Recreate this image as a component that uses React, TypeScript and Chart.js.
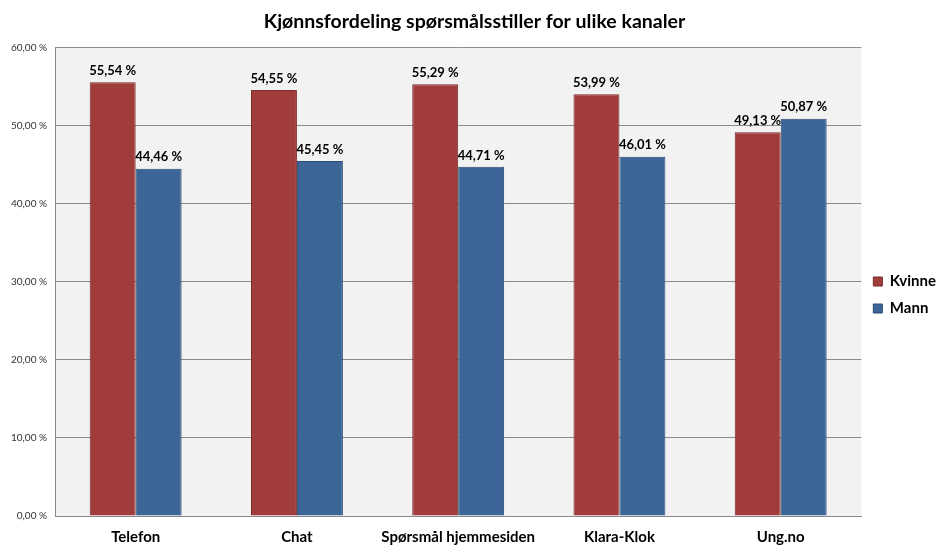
import React, { useEffect, useRef } from "react";
import { Chart, registerables } from "chart.js";

Chart.register(...registerables);

const categories = ["Telefon", "Chat", "Spørsmål hjemmesiden", "Klara-Klok", "Ung.no"];
const kvinne = [55.54, 54.55, 55.29, 53.99, 49.13];
const mann = [44.46, 45.45, 44.71, 46.01, 50.87];
const seriesNames = ["Kvinne", "Mann"];
const title = "Kjønnsfordeling spørsmålsstiller for ulike kanaler";

const FONT = "Lato, 'Open Sans', sans-serif";
const fmt = (v: number) => v.toFixed(2).replace(".", ",") + " %";

const bgPlugin = {
  id: "plotBg",
  beforeDraw(chart: any) {
    const { ctx, chartArea: a } = chart;
    ctx.save();
    ctx.fillStyle = "#f2f2f2";
    ctx.fillRect(a.left, a.top, a.right - a.left, a.bottom - a.top);
    ctx.restore();
  },
};

const labelPlugin = {
  id: "valLabels",
  afterDatasetsDraw(chart: any) {
    const { ctx } = chart;
    ctx.save();
    ctx.font = "bold 13px " + FONT;
    ctx.fillStyle = "#000";
    ctx.textAlign = "center";
    ctx.textBaseline = "bottom";
    chart.data.datasets.forEach((ds: any, i: number) => {
      const meta = chart.getDatasetMeta(i);
      meta.data.forEach((bar: any, j: number) => {
        ctx.fillText(fmt(ds.data[j]), bar.x, bar.y - 5);
      });
    });
    ctx.restore();
  },
};

export default function App() {
  const ref = useRef<HTMLCanvasElement>(null);
  useEffect(() => {
    document.body.style.margin = "0";
    const chart = new Chart(ref.current!, {
      type: "bar",
      data: {
        labels: categories,
        datasets: [
          {
            label: seriesNames[0],
            data: kvinne,
            backgroundColor: "#a03c3a",
            borderColor: "#7a2b2a",
            borderWidth: 1,
            categoryPercentage: 0.57,
            barPercentage: 1,
          },
          {
            label: seriesNames[1],
            data: mann,
            backgroundColor: "#3b6697",
            borderColor: "#2a4b72",
            borderWidth: 1,
            categoryPercentage: 0.57,
            barPercentage: 1,
          },
        ],
      },
      options: {
        animation: false,
        responsive: false,
        layout: { padding: { left: 3, right: 6, top: 0, bottom: -6 } },
        plugins: {
          title: {
            display: true,
            text: title,
            font: { family: FONT, size: 19.5, weight: "bold" },
            color: "#000",
            padding: { top: 10, bottom: 14 },
          },
          legend: {
            position: "right",
            title: {
              display: true,
              text: "",
              font: { size: 10 },
              padding: { top: 10, bottom: 10 },
            },
            labels: {
              boxWidth: 9,
              boxHeight: 9,
              color: "#000",
              padding: 12,
              font: { family: FONT, size: 15, weight: "bold" },
            },
          },
          tooltip: { enabled: false },
        },
        scales: {
          x: {
            grid: { display: false, drawTicks: false },
            border: { color: "#888" },
            ticks: {
              color: "#000",
              maxRotation: 0,
              minRotation: 0,
              autoSkip: false,
              font: { family: FONT, size: 15, weight: "bold" },
              padding: 12,
            },
          },
          y: {
            min: 0,
            max: 60,
            border: { color: "#888" },
            grid: { color: "#8c8c8c", drawTicks: false },
            ticks: {
              stepSize: 10,
              padding: 8,
              color: "#333",
              font: { family: FONT, size: 10 },
              callback: (v: any) => fmt(Number(v)),
            },
          },
        },
      },
      plugins: [bgPlugin, labelPlugin],
    });
    return () => chart.destroy();
  }, []);
  return <canvas ref={ref} width={952} height={552} style={{ display: "block" }} />;
}
